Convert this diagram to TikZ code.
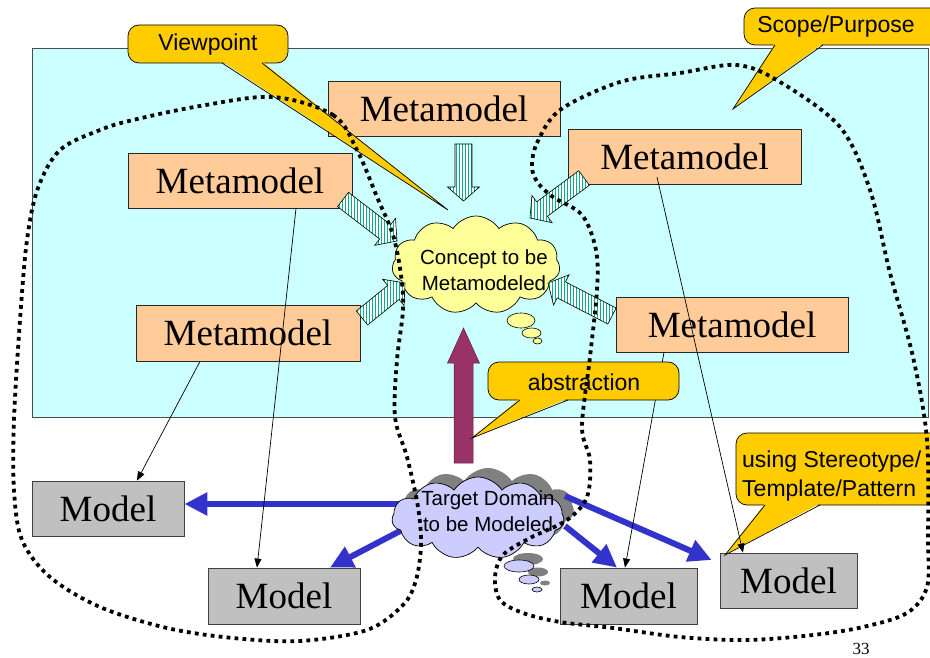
\documentclass[tikz,border=0pt]{standalone}
\usepackage{fontspec}
\setmainfont{Liberation Serif}
\newfontfamily\arialfont{Liberation Sans}
\usetikzlibrary{shapes.symbols, arrows.meta, calc, patterns.meta}

\definecolor{panel}{RGB}{204,255,255}
\definecolor{peach}{RGB}{255,204,153}
\definecolor{modelgray}{RGB}{192,192,192}
\definecolor{calloutyellow}{RGB}{255,204,0}
\definecolor{conceptyellow}{RGB}{255,255,153}
\definecolor{lavender}{RGB}{204,204,255}
\definecolor{shadowgray}{RGB}{128,128,128}
\definecolor{flowblue}{RGB}{51,51,204}
\definecolor{plum}{RGB}{153,51,102}
\definecolor{stripegreen}{RGB}{0,176,136}

% block arrow: #1 style, #2 tail, #3 tip, #4 half shaft, #5 half head, #6 head length
\newcommand{\blockarrow}[6]{%
  \coordinate (ba-neck) at ($(#3)!#6!(#2)$);
  \path[#1] ($(#2)!#4!90:(#3)$) -- ($(ba-neck)!#4!90:(#3)$)
     -- ($(ba-neck)!#5!90:(#3)$) -- (#3)
     -- ($(ba-neck)!#5!-90:(#3)$) -- ($(ba-neck)!#4!-90:(#3)$)
     -- ($(#2)!#4!-90:(#3)$) -- cycle;}

% callout wedge: #1 base left, #2 base right, #3 tip
\newcommand{\callouttail}[3]{%
  \fill[calloutyellow] ($(#1)+(0,-1.5)$) -- (#3) -- ($(#2)+(0,-1.5)$) -- cycle;
  \draw[line width=0.7pt, line join=miter] (#1) -- (#3) -- (#2);}

\begin{document}
\begin{tikzpicture}[x=1pt, y=-1pt,
  mmbox/.style={draw=black!85, line width=0.8pt, fill=peach, inner sep=0pt,
    font=\fontsize{37}{40}\selectfont},
  modelbox/.style={draw=black!75, line width=0.8pt, fill=modelgray, inner sep=0pt,
    font=\fontsize{37}{40}\selectfont},
  calloutbox/.style={draw=black, line width=0.7pt, fill=calloutyellow,
    rounded corners=11pt, inner sep=0pt, font=\arialfont\fontsize{23}{28.5}\selectfont},
  callouttext/.style={inner sep=0pt, font=\arialfont\fontsize{23}{28.5}\selectfont},
  cloudtext/.style={inner sep=0pt, align=center, font=\arialfont\fontsize{20.5}{25.5}\selectfont},
  puffy/.style={cloud, cloud puffs=11, cloud puff arc=115, cloud ignores aspect, inner sep=0pt},
  stripes/.style={draw=black, line width=0.6pt, preaction={fill=white},
    pattern={Lines[angle=90, distance=3pt, line width=1pt]}, pattern color=stripegreen},
  liftarrow/.style={draw=plum!60!black, line width=0.5pt, fill=plum},
  link/.style={line width=0.7pt, -{Triangle[length=9pt, width=7pt]}},
  flow/.style={draw=flowblue, line width=6pt, -{Triangle[length=23pt, width=22pt]}},
  dotline/.style={line width=3.8pt, dash pattern=on 3.8pt off 4.2pt, black},
]
\useasboundingbox (0,0) rectangle (930,658);

% the metamodel layer
\fill[panel] (32,48) rectangle (928,417);
\draw[black!70, line width=0.8pt] (32,48) rectangle (928,417);

\node[mmbox, minimum width=232pt, minimum height=55pt] (mm1) at (444,108.5) {Metamodel};
\node[mmbox, minimum width=224pt, minimum height=55pt] (mm2) at (240,180.5) {Metamodel};
\node[mmbox, minimum width=224pt, minimum height=56pt] (mm3) at (248,333) {Metamodel};
\node[mmbox, minimum width=233pt, minimum height=55pt] (mm4) at (684.5,156.5) {Metamodel};
\node[mmbox, minimum width=232pt, minimum height=55pt] (mm5) at (732,324.5) {Metamodel};

% target domain cloud: shadow first
\node[puffy, fill=shadowgray, minimum width=172pt, minimum height=82pt] (tcs) at (488,509) {};
\fill[shadowgray] (528,559) ellipse [x radius=15, y radius=6];
\fill[shadowgray] (538,572) ellipse [x radius=10, y radius=4.5];
\fill[shadowgray] (545,583) ellipse [x radius=5, y radius=2.5];

% arrows from the target domain to the models
\coordinate (b1-s) at (402,504);
\coordinate (b2-s) at (402,530);
\coordinate (b3-s) at (565,526);
\coordinate (b4-s) at (565,496);
\node[modelbox, minimum width=152pt, minimum height=55pt] (md1) at (108,508.5) {Model};
\node[modelbox, minimum width=152pt, minimum height=56pt] (md2) at (284,596) {Model};
\node[modelbox, minimum width=137pt, minimum height=56pt] (md3) at (628.5,596) {Model};
\node[modelbox, minimum width=137pt, minimum height=55pt] (md4) at (788.5,580.5) {Model};
\draw[flow] (b1-s) -- ([yshift=4.5pt]md1.east);
\draw[flow] (b2-s) -- ([xshift=46pt]md2.north);
\draw[flow] (b3-s) -- ([xshift=-11.5pt]md3.north);
\draw[flow] (b4-s) -- ([shift={(-8,-20.5)}]md4.west);

\node[puffy, draw=black, line width=0.7pt, fill=lavender, minimum width=172pt, minimum height=82pt] (tc) at (478,518) {};
\draw[line width=0.6pt, fill=lavender] (519,566) ellipse [x radius=15, y radius=6];
\draw[line width=0.6pt, fill=lavender] (529,579.5) ellipse [x radius=10, y radius=4.5];
\draw[line width=0.6pt, fill=lavender] (537,589.5) ellipse [x radius=5, y radius=2.5];
\node[cloudtext] (tct) at (488,511) {Target Domain\\to be Modeled};

% concept cloud
\node[puffy, draw=black, line width=0.7pt, fill=conceptyellow, minimum width=168pt, minimum height=98pt] (cc) at (476,265) {};
\draw[line width=0.6pt, fill=conceptyellow] (521,320.5) ellipse [x radius=14, y radius=7.5];
\draw[line width=0.6pt, fill=conceptyellow] (531.5,333) ellipse [x radius=9.5, y radius=5];
\draw[line width=0.6pt, fill=conceptyellow] (537.5,341) ellipse [x radius=4.5, y radius=3];
\node[cloudtext] (cct) at (484,270) {Concept to be\\Metamodeled};

% striped arrows from the metamodels into the concept
\coordinate (a1-s) at (463.5,144);  \coordinate (a1-t) at (463.5,201);
\coordinate (a2-s) at (343,199.5);  \coordinate (a2-t) at (397,241);
\coordinate (a3-s) at (362,318);    \coordinate (a3-t) at (405,283);
\coordinate (a4-s) at (584,178);    \coordinate (a4-t) at (530,218);
\coordinate (a5-s) at (612,316);    \coordinate (a5-t) at (548,283);
\blockarrow{stripes}{a1-s}{a1-t}{8.5pt}{16pt}{14pt}
\blockarrow{stripes}{a2-s}{a2-t}{9pt}{17pt}{15pt}
\blockarrow{stripes}{a3-s}{a3-t}{9pt}{17pt}{15pt}
\blockarrow{stripes}{a4-s}{a4-t}{9pt}{17pt}{15pt}
\blockarrow{stripes}{a5-s}{a5-t}{9pt}{17pt}{15pt}

% abstraction arrow
\coordinate (up-s) at (463.5,463);
\coordinate (up-t) at (463.5,328);
\blockarrow{liftarrow}{up-s}{up-t}{9.5pt}{16pt}{35pt}

% stereotype callout
\node[calloutbox, minimum width=216pt, minimum height=72pt] (st) at (844,469) {};
\coordinate (st-tip) at (725,555);
\callouttail{765,505}{820,505}{st-tip}
\node[callouttext, anchor=west, align=left] (stt) at (742,476) {using Stereotype/\\Template/Pattern};

% instantiation links
\draw[link] ([xshift=-48pt]mm3.south) -- ([xshift=29pt]md1.north);
\draw[link] ([xshift=56pt]mm2.south) -- ([xshift=-27pt]md2.north);
\draw[link] ([shift={(-27.5,20.5)}]mm4.center) -- ([xshift=-45.5pt]md4.north);
\draw[link] ([xshift=-68pt]mm5.south) -- ([xshift=-3.5pt]md3.north);

% viewpoint callout
\node[calloutbox, minimum width=160pt, minimum height=38pt] (vp) at (208,44) {};
\coordinate (vp-tip) at (448,210);
\callouttail{222,63}{262,63}{vp-tip}
\node[callouttext] (vpt) at (208,45) {Viewpoint};

% scope/purpose callout
\node[calloutbox, minimum width=200pt, minimum height=37pt] (sp) at (844,26.5) {};
\coordinate (sp-tip) at (733,109);
\callouttail{775,45}{823,45}{sp-tip}
\node[callouttext] (spt) at (836,27) {Scope/Purpose};

% abstraction callout
\node[calloutbox, minimum width=191pt, minimum height=38pt] (ab) at (583.5,381) {};
\coordinate (ab-tip) at (472,438);
\callouttail{520,400}{568,400}{ab-tip}
\node[callouttext] (abt) at (584,382) {abstraction};

% scope boundaries
\draw[dotline] plot[smooth cycle, tension=0.55] coordinates {
  (273,97) (333,115) (357,150) (377,197) (393,235) (401,275) (403,310)
  (397,360) (395,417) (407,457) (418,507) (421,545) (416,580) (403,605)
  (367,630) (300,641) (233,638) (167,628) (100,607) (50,577) (22,540)
  (14,490) (14,420) (20,320) (27,240) (38,188) (60,150) (100,130)
  (133,120) (200,106)};
\draw[dotline] plot[smooth cycle, tension=0.55] coordinates {
  (532,167) (537,143) (560,110) (620,82) (680,73) (737,65) (780,82)
  (840,127) (870,190) (890,273) (913,357) (927,440) (928,540) (927,587)
  (907,613) (863,627) (813,635) (747,640) (680,637) (613,628) (560,622)
  (523,613) (500,600) (495,577) (503,555) (530,538) (567,520) (587,497)
  (590,460) (582,427) (590,357) (597,290) (596,250) (582,215) (553,197)
  (538,183)};

% page number
\node[inner sep=0pt, font=\fontsize{17}{20}\selectfont] (pg) at (861,649) {33};
\end{tikzpicture}
\end{document}
